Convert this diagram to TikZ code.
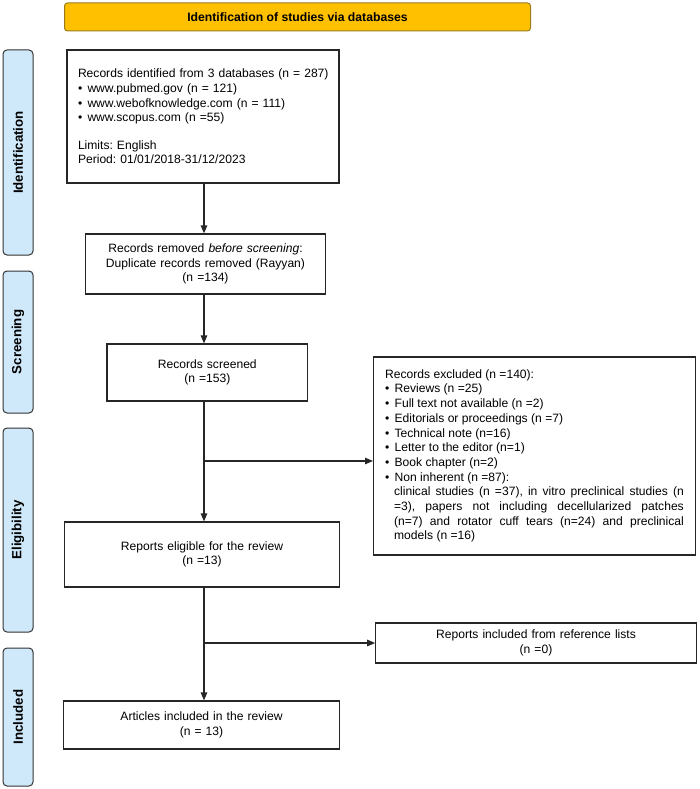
\documentclass[tikz,border=0pt]{standalone}
\usepackage{fontspec}
\setmainfont{Liberation Sans}
\usetikzlibrary{arrows.meta}
\usetikzlibrary{calc}

\definecolor{hdrorange}{HTML}{FFC000}
\definecolor{hdrline}{HTML}{9A7B1C}
\definecolor{sideblue}{HTML}{CFE9FA}
\newcommand{\bul}{\makebox[9.5pt][l]{\textbullet}}
\frenchspacing

\begin{document}
\begin{tikzpicture}[x=1pt, y=-1pt,
  box/.style={draw=black!85, line width=1.2pt, fill=white, inner sep=0pt, font=\fontsize{12.1}{14.7}\selectfont\frenchspacing},
  side/.style={draw=black!80, line width=1pt, rounded corners=4pt, fill=sideblue, rotate=90, minimum height=30, font=\fontsize{13.3}{15}\selectfont\bfseries},
  arr/.style={line width=1.2pt, draw=black!85, -{Triangle[length=8pt,width=6.5pt]}}]
\useasboundingbox (0,0) rectangle (699,789);

% header
\node[draw=hdrline, fill=hdrorange, rounded corners=3pt, line width=1pt, minimum width=466, minimum height=28, font=\fontsize{12.2}{14}\selectfont\bfseries] (header) at (297.5,17) {Identification of studies via databases};

% phases
\foreach \yc/\len/\lab in {152.5/205/Identification, 342/142/Screening, 530/204/Eligibility, 717/138/Included}
  \node[side, minimum width=\len] (\lab) at (18,\yc) {\lab};

% boxes
\node[box, minimum width=272, minimum height=133, text width=250, align=left] (ident) at (203,116.5) {\mbox{Records identified from 3 databases (n = 287)}\\
\bul www.pubmed.gov (n = 121)\\
\bul www.webofknowledge.com (n = 111)\\
\bul www.scopus.com (n =55)\\[12.7pt]
Limits: English\\
Period: 01/01/2018-31/12/2023};
\node[box, minimum width=240, minimum height=60, text width=230, align=center] (removed) at (205.5,264) {Records removed \textit{before screening}:\\ Duplicate records removed (Rayyan)\\ (n =134)};
\node[box, minimum width=200.6, minimum height=57, text width=190, align=center] (screened) at (207.3,372.5) {Records screened\\ (n =153)};
\node[box, minimum width=321.8, minimum height=198, text width=298.7, align=justify] (excluded) at (534.5,456) {Records excluded (n =140):\\
\bul Reviews (n =25)\\
\bul Full text not available (n =2)\\
\bul Editorials or proceedings (n =7)\\
\bul Technical note (n=16)\\
\bul Letter to the editor (n=1)\\
\bul Book chapter (n=2)\\
\bul Non inherent (n =87):\par
{\noindent\leftskip=9pt\hbadness=10000 clinical studies (n =37), in vitro preclinical studies (n\linebreak =3), papers not including decellularized patches\linebreak (n=7) and rotator cuff tears (n=24) and preclinical\linebreak models (n =16)\par}};
\node[box, minimum width=275.5, minimum height=65, text width=260, align=center] (eligible) at (202,554.5) {Reports eligible for the review\\ (n =13)};
\node[box, minimum width=320.5, minimum height=40, text width=300, align=center] (reflists) at (536,643) {Reports included from reference lists\\ (n =0)};
\node[box, minimum width=276.4, minimum height=48, text width=260, align=center] (included) at (201.5,725) {Articles included in the review\\ (n = 13)};

% connectors
\coordinate (c1) at (204,461);
\coordinate (c2) at (204,643);
\draw[arr] (c1 |- ident.south) -- (c1 |- removed.north);
\draw[arr] (c1 |- removed.south) -- (c1 |- screened.north);
\draw[arr] (c1 |- screened.south) -- (c1 |- eligible.north);
\draw[arr] (c1) -- (excluded.west |- c1);
\draw[arr] (c2 |- eligible.south) -- (c2 |- included.north);
\draw[arr] (c2) -- (reflists.west |- c2);
\end{tikzpicture}
\end{document}
